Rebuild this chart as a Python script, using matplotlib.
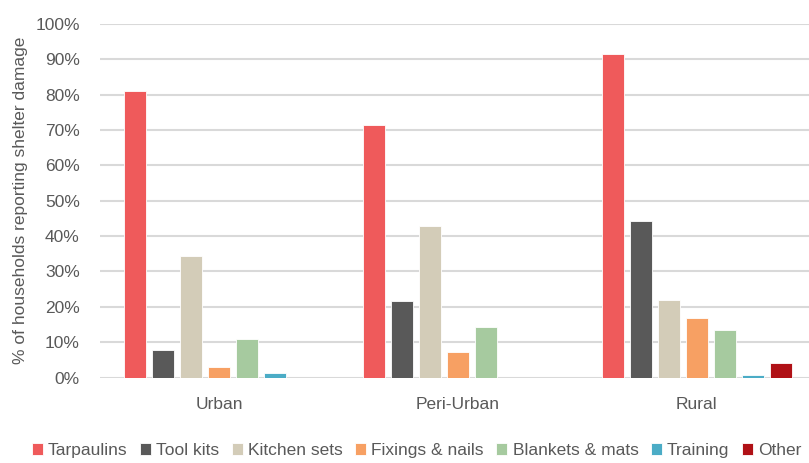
import matplotlib
matplotlib.use("Agg")
import matplotlib.pyplot as plt
import numpy as np
from matplotlib.ticker import PercentFormatter, MultipleLocator

plt.rcParams['font.family'] = ['Liberation Sans Narrow', 'Liberation Sans', 'DejaVu Sans']

categories = ["Urban", "Peri-Urban", "Rural"]
series = ["Tarpaulins", "Tool kits", "Kitchen sets", "Fixings & nails",
          "Blankets & mats", "Training", "Other"]
tarpaulins = [81.1, 71.3, 91.4]
tool_kits = [7.9, 21.5, 44.3]
kitchen_sets = [34.5, 42.8, 22.0]
fixings_nails = [3.1, 7.2, 16.7]
blankets_mats = [11.0, 14.3, 13.3]
training = [1.4, 0.0, 0.8]
other = [0.0, 0.0, 4.1]
values = [tarpaulins, tool_kits, kitchen_sets, fixings_nails, blankets_mats, training, other]
colors = ["#EF5A5B", "#595959", "#D3CCB8", "#F7A063", "#A6CA9F", "#4BACC6", "#B01116"]

W, H = 809, 463
fig = plt.figure(figsize=(W/100, H/100), dpi=100)
left, right, top, bottom = 100, 809, 24, 377.5
ax = fig.add_axes([left/W, (H-bottom)/H, (right-left)/W, (bottom-top)/H])

x = np.arange(len(categories))
pitch = 28/238.7
bw = 22/238.7
for i, (name, vals, c) in enumerate(zip(series, values, colors)):
    ax.bar(x + (i-3)*pitch, vals, width=bw, color=c, label=name,
           edgecolor='white', linewidth=0.6, zorder=3)

ax.set_xlim(-0.5, -0.5 + (right-left)/238.7)
ax.set_ylim(0, 100)
ax.yaxis.set_major_locator(MultipleLocator(10))
ax.yaxis.set_major_formatter(PercentFormatter(decimals=0))
ax.grid(axis='y', color='#D9D9D9', linewidth=1.5, zorder=0)
for s in ax.spines.values():
    s.set_visible(False)
ax.tick_params(axis='both', length=0, colors='#595959', labelsize=12.5)
ax.tick_params(axis='y', pad=14.5)
ax.tick_params(axis='x', pad=14)
ax.set_xticks(x)
ax.set_xticklabels(categories)
ax.set_ylabel("% of households reporting shelter damage", fontsize=12.5, color='#595959')
ax.yaxis.set_label_coords(-0.101, 0.5)

fig.legend(loc='center', bbox_to_anchor=(0.515, 0.027), ncol=7, frameon=False,
           fontsize=12.5, handlelength=0.63, handleheight=0.63, handletextpad=0.3,
           columnspacing=0.72, labelcolor='#595959', borderpad=0)

fig.savefig("out.png", dpi=100)
